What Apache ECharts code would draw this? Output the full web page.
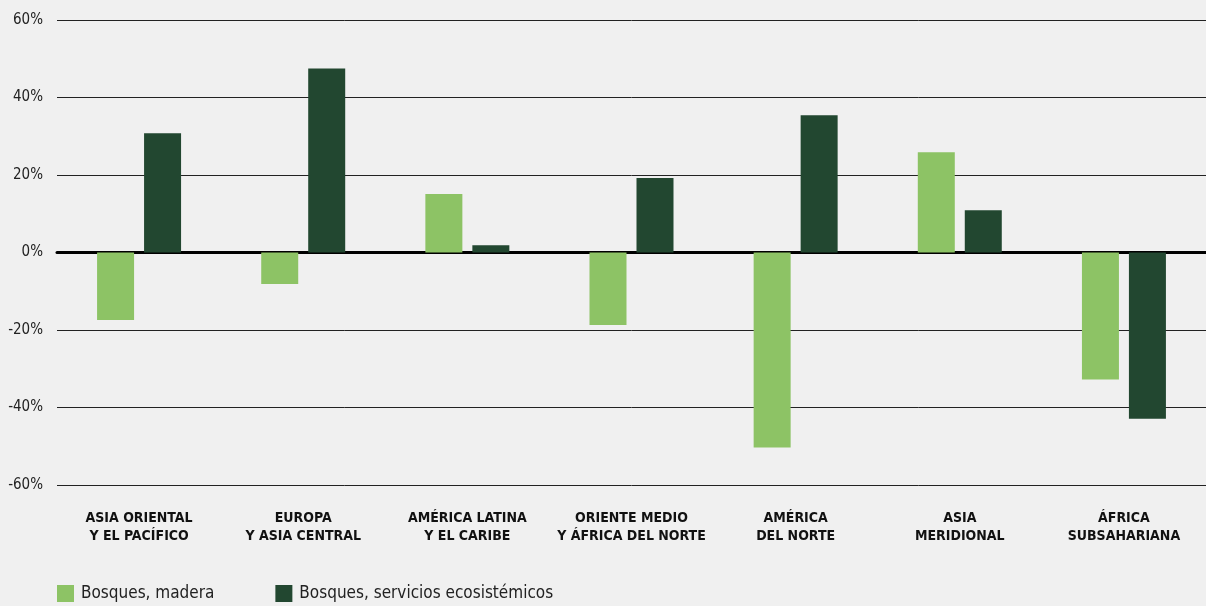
<!DOCTYPE html>
<html>
<head>
<meta charset="utf-8">
<style>
html,body{margin:0;padding:0;background:#f0f0f0;}
#c{width:1206px;height:606px;}
</style>
<script src="https://cdn.jsdelivr.net/npm/echarts@6/dist/echarts.min.js"></script>
</head>
<body>
<div id="c"></div>
<script>
const categories = [
  "ASIA ORIENTAL\nY EL PACÍFICO",
  "EUROPA\nY ASIA CENTRAL",
  "AMÉRICA LATINA\nY EL CARIBE",
  "ORIENTE MEDIO\nY ÁFRICA DEL NORTE",
  "AMÉRICA\nDEL NORTE",
  "ASIA\nMERIDIONAL",
  "ÁFRICA\nSUBSAHARIANA"
];
const seriesNames = ["Bosques, madera", "Bosques, servicios ecosistémicos"];
const madera = [-17.4, -8.1, 15.1, -18.7, -50.3, 25.9, -32.8];
const servicios = [30.8, 47.5, 1.9, 19.2, 35.4, 10.9, -42.9];

const chart = echarts.init(document.getElementById('c'));
const condensed = '"DejaVu Sans Condensed", "Liberation Sans Narrow", "Roboto", sans-serif';
chart.setOption({
  backgroundColor: '#f0f0f0',
  animation: false,
  grid: { left: 57, right: 0, top: 20, bottom: 121 },
  legend: {
    left: 57, bottom: 4, padding: 0, itemWidth: 17, itemHeight: 17, itemGap: 61,
    icon: 'rect',
    textStyle: { fontFamily: condensed, fontSize: 17, color: '#222', padding: [0, 0, 0, 2] },
    data: seriesNames
  },
  xAxis: {
    type: 'category',
    data: categories,
    axisLine: { onZero: true, lineStyle: { color: '#000', width: 3 } },
    axisTick: { show: false },
    axisLabel: {
      fontFamily: condensed, fontWeight: 'bold', fontSize: 14, color: '#111',
      lineHeight: 18, margin: 24, interval: 0
    },
    position: 'bottom'
  },
  yAxis: {
    type: 'value', min: -60, max: 60, interval: 20,
    axisLine: { show: false },
    axisTick: { show: false },
    axisLabel: {
      formatter: '{value}%', fontFamily: condensed, fontSize: 15, color: '#222', margin: 14
    },
    splitLine: { lineStyle: { color: '#222', width: 1 } }
  },
  series: [
    { name: seriesNames[0], type: 'bar', data: madera, barWidth: 37, barGap: '27%',
      itemStyle: { color: '#8dc365' } },
    { name: seriesNames[1], type: 'bar', data: servicios, barWidth: 37,
      itemStyle: { color: '#224730' } }
  ]
});
</script>
</body>
</html>
